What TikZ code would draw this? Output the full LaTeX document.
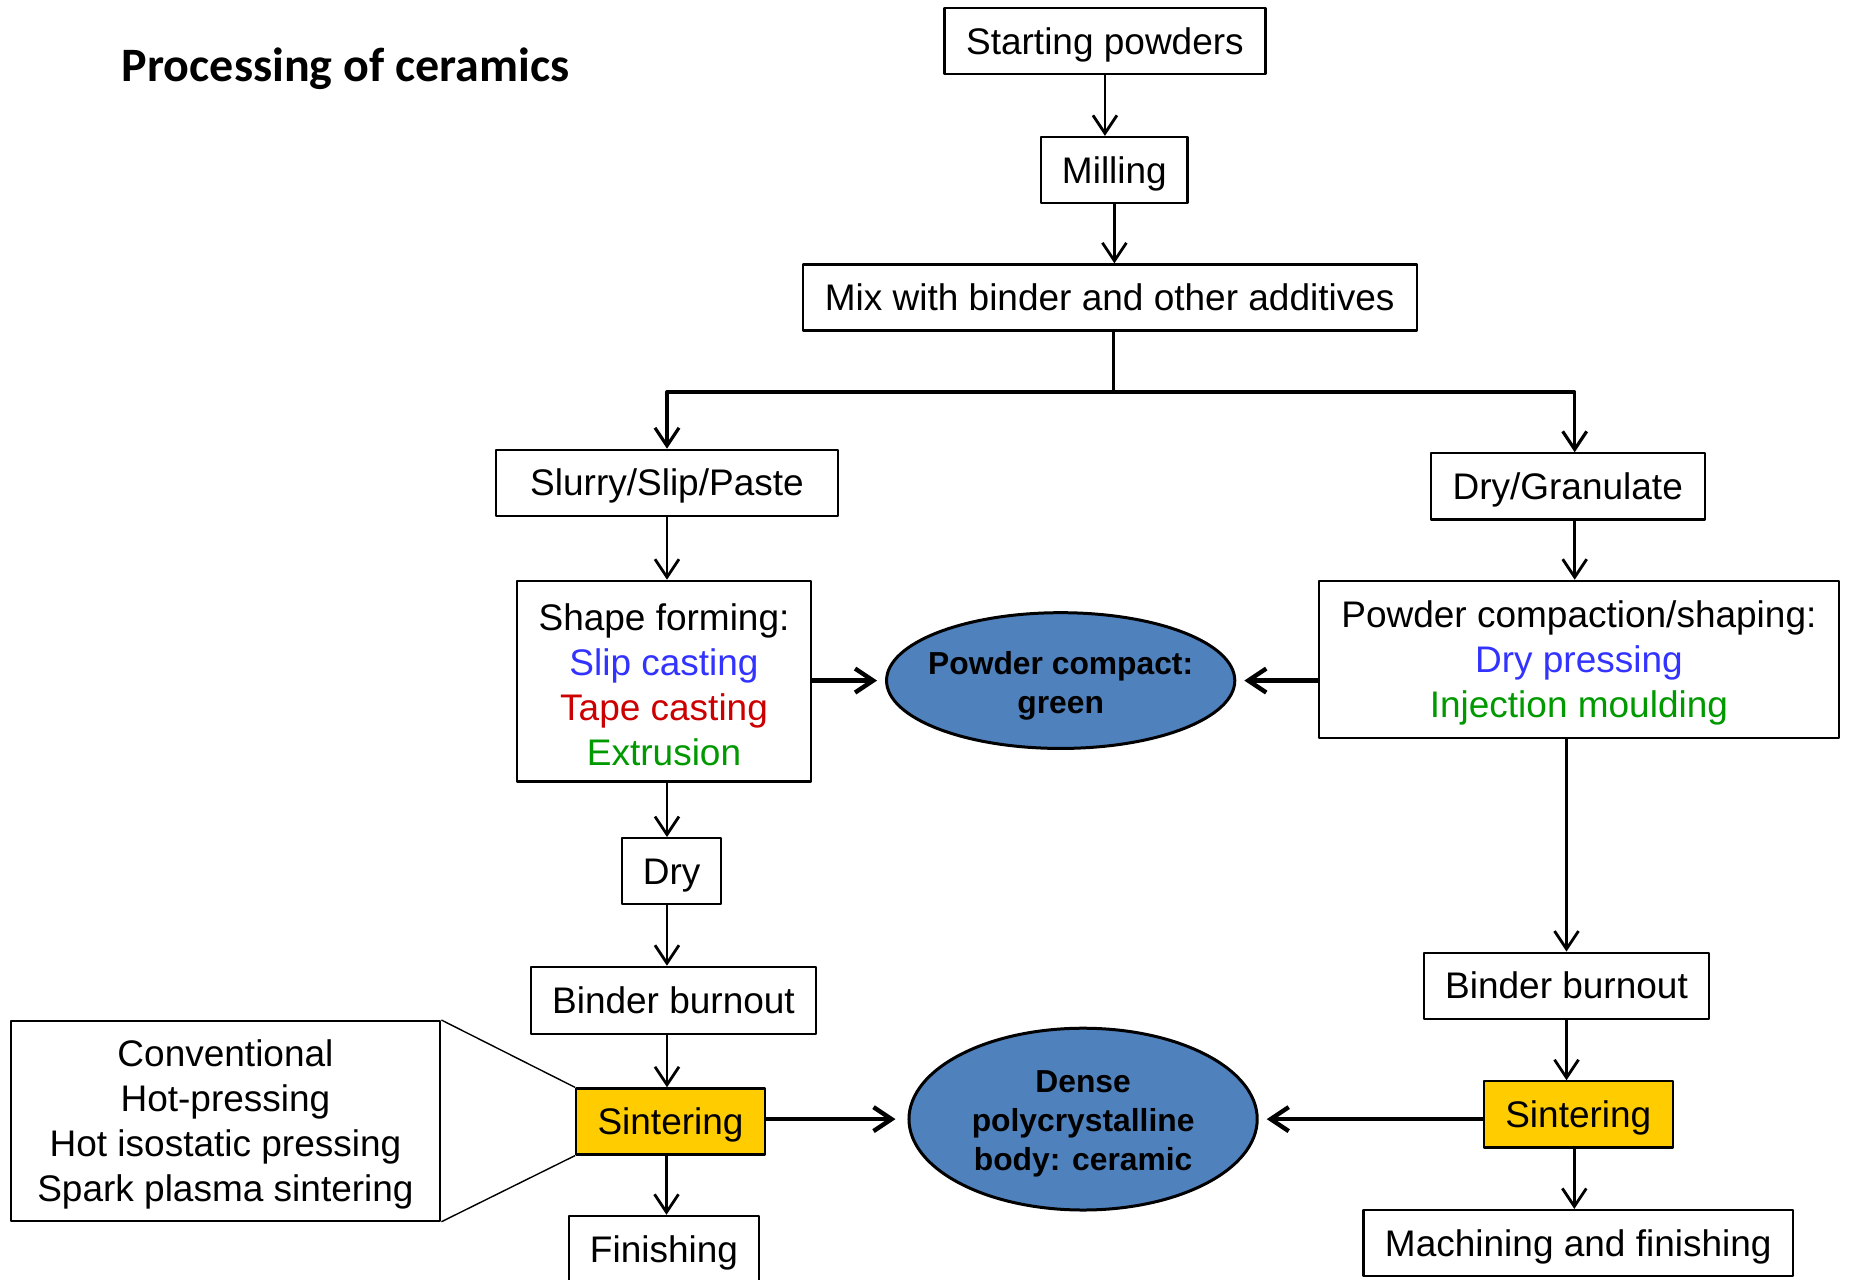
\documentclass[tikz,border=0pt]{standalone}
\usepackage{fontspec}
\setmainfont{Liberation Sans}
\newfontfamily\titlefont{Carlito}
\usetikzlibrary{arrows.meta,shapes.geometric}
\definecolor{slipblue}{HTML}{3333FF}
\definecolor{tapered}{HTML}{CC0000}
\definecolor{extgreen}{HTML}{009900}
\definecolor{compblue}{HTML}{4F81BD}
\definecolor{sintyellow}{HTML}{FFCC00}
\def\pxu{0.59025pt}
\newcommand{\headroom}[1]{\rule{0pt}{#1}}
\tikzset{
  stagebox/.style n args={2}{draw,line width=1.1pt,fill=white,align=center,inner sep=0pt,
    minimum width=#1*\pxu,minimum height=#2*\pxu,font=\fontsize{18.5}{22.5}\selectfont},
  onestage/.style n args={2}{stagebox={#1}{#2},text height=17.2pt,text depth=4.1pt},
  sinterbox/.style n args={2}{onestage={#1}{#2},fill=sintyellow},
  productoval/.style n args={2}{ellipse,draw,line width=1.5pt,fill=compblue,align=center,inner ysep=0pt,inner xsep=-8pt,
    minimum width=#1*\pxu,minimum height=#2*\pxu,font=\bfseries\fontsize{15.9}{19.5}\selectfont},
  flow/.style={->,line width=1.4pt},
  bigflow/.style={->,line width=2.2pt,shorten >=4pt},
}
\begin{document}
\begin{tikzpicture}[x=0.59025pt,y=-0.59025pt,line join=round,>={Straight Barb[length=9pt,width=12pt]}]
\useasboundingbox (0,0) rectangle (1568,1084);
\node[anchor=west,inner sep=0pt,font=\titlefont\bfseries\fontsize{24}{28}\selectfont] (title) at (103,58) {Processing of ceramics};
\node[onestage={272}{56}] (start) at (936,35) {Starting powders};
\node[onestage={124}{56}] (mill) at (944,144) {Milling};
\node[onestage={520}{56}] (mix) at (940,252) {Mix with binder and other additives};
\coordinate (split) at (943,332);
\node[onestage={290}{56}] (slurry) at (565,409) {Slurry/Slip/Paste};
\node[onestage={232}{56}] (drygran) at (1328,412) {Dry/Granulate};
\node[stagebox={249}{170}] (shape) at (562.5,577) {\headroom{17.1pt}Shape forming:\\ \textcolor{slipblue}{Slip casting}\\ \textcolor{tapered}{Tape casting}\\ \textcolor{extgreen}{Extrusion}};
\node[stagebox={441}{133}] (powcomp) at (1337.5,558.5) {\headroom{17.1pt}Powder compaction/shaping:\\ \textcolor{slipblue}{Dry pressing}\\ \textcolor{extgreen}{Injection moulding}};
\node[productoval={295}{115}] (green) at (898.5,576.5) {\headroom{16.4pt}Powder compact:\\ green};
\node[onestage={84}{56}] (dry) at (569,738) {Dry};
\node[onestage={241}{57}] (burnL) at (570.5,847.5) {Binder burnout};
\node[onestage={242}{56}] (burnR) at (1327,835) {Binder burnout};
\node[sinterbox={160}{56}] (sintL) at (568,950) {Sintering};
\node[sinterbox={160}{56}] (sintR) at (1337,944) {Sintering};
\node[productoval={295}{154}] (dense) at (917.5,948) {\headroom{15.8pt}Dense\\ polycrystalline\\ body: ceramic};
\node[stagebox={364}{169}] (methods) at (191,949.5) {\headroom{17.1pt}Conventional\\ Hot-pressing\\ Hot isostatic pressing\\ Spark plasma sintering};
\node[onestage={161}{56}] (finish) at (562.5,1058) {Finishing};
\node[onestage={364}{56}] (machine) at (1337,1053) {Machining and finishing};
\draw[flow] (start.south) -- (start.south |- mill.north);
\draw[flow] (mill.south) -- (mill.south |- mix.north);
\draw[line width=1.4pt] (mix.south -| split) -- (split);
\draw[flow,line width=1.6pt] (split) -| (slurry);
\draw[flow,line width=1.6pt] (split) -| ([xshift=3.5pt]drygran.north);
\draw[flow] (slurry.south) -- (slurry.south |- shape.north);
\draw[flow] ([xshift=3.5pt]drygran.south) -- ([xshift=3.5pt]drygran.south |- powcomp.north);
\draw[bigflow] (shape.east |- green) -- (green);
\draw[bigflow] (powcomp.west |- green) -- (green);
\draw[flow] (slurry.south |- shape.south) -- (slurry.south |- dry.north);
\draw[flow] (slurry.south |- dry.south) -- (slurry.south |- burnL.north);
\draw[flow] (slurry.south |- burnL.south) -- (slurry.south |- sintL.north);
\draw[flow] (burnR |- powcomp.south) -- (burnR);
\draw[flow] (burnR.south) -- (burnR.south |- sintR.north);
\draw[bigflow,shorten >=6pt] (sintL.east |- dense) -- (dense);
\draw[bigflow] (sintR.west |- dense) -- (dense);
\draw[flow] ([xshift=-2pt]sintL.south) -- ([xshift=-2pt]sintL.south |- finish.north);
\draw[flow] ([xshift=-2pt]sintR.south) -- ([xshift=-2pt]sintR.south |- machine.north);
\draw[line width=0.7pt] (methods.north east) -- (sintL.north west);
\draw[line width=0.7pt] (methods.south east) -- (sintL.south west);
\end{tikzpicture}
\end{document}
